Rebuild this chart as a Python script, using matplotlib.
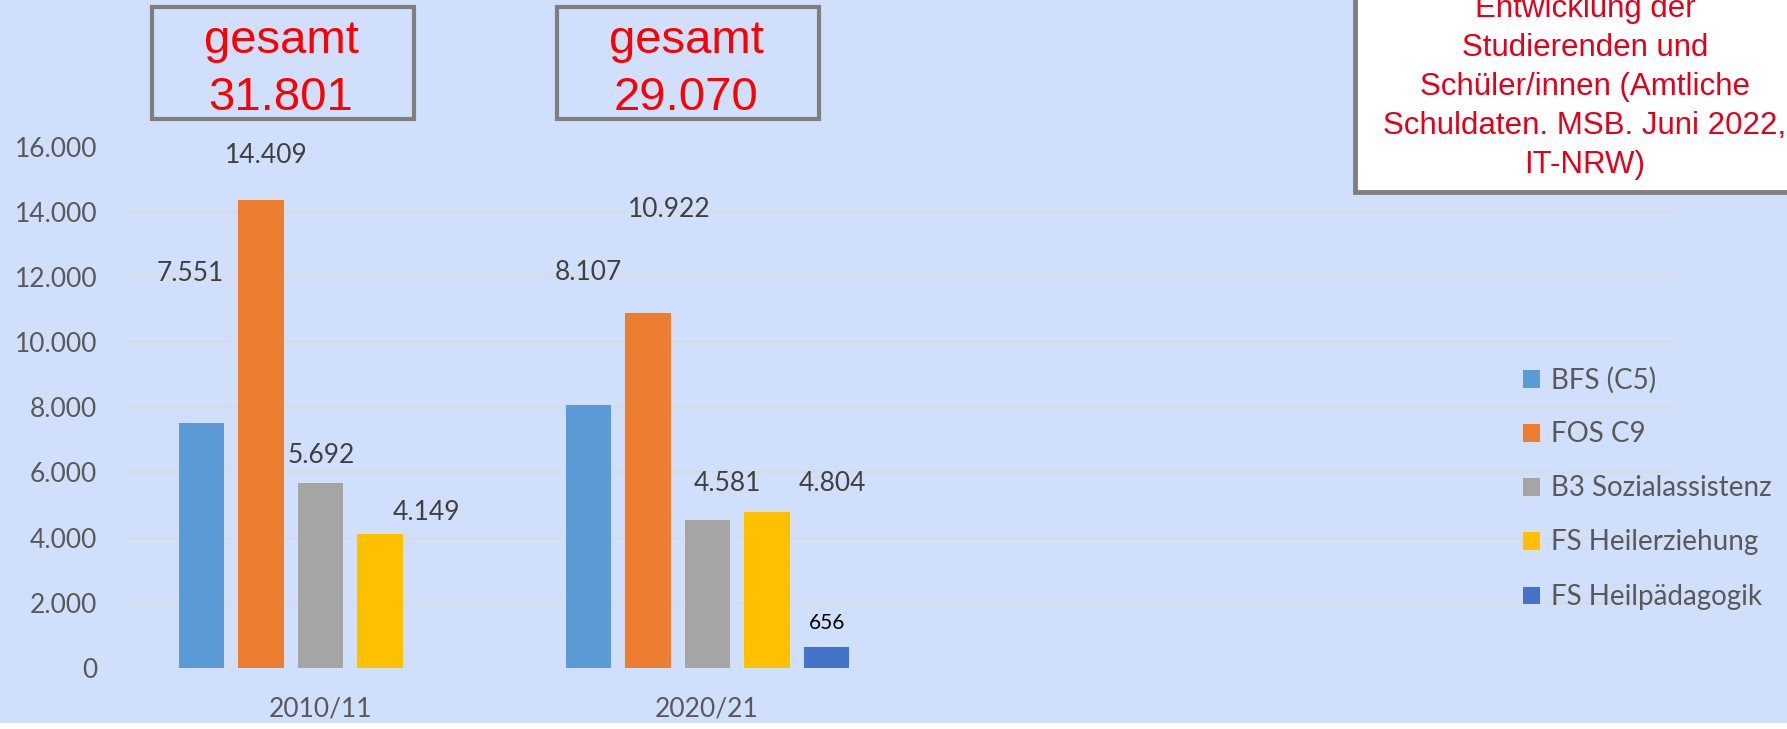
import numpy as np
import matplotlib
matplotlib.use("Agg")
from matplotlib import pyplot as plt
from matplotlib.patches import Rectangle

# data
categories = ["2010/11", "2020/21"]
series_names = ["BFS (C5)", "FOS C9", "B3 Sozialassistenz", "FS Heilerziehung", "FS Heilpädagogik"]
bfs = [7551, 8107]
fos = [14409, 10922]
b3 = [5692, 4581]
fs_heilerz = [4149, 4804]
fs_heilpaed = [np.nan, 656]
totals = ["31.801", "29.070"]
info_lines = ["Entwicklung der", "Studierenden und", "Schüler/innen (Amtliche",
              "Schuldaten. MSB. Juni 2022,", "IT-NRW)"]

colors = ["#5B9BD5", "#ED7D31", "#A5A5A5", "#FFC000", "#4472C4"]
bg = "#D0E0FC"

# manually placed data labels (x offset from category, y in data units)
label_pos = [
    [(-0.336, 12121), (-0.307, 12152)],
    [(-0.138, 15745), (-0.097, 14086)],
    [(0.002, 6532), (0.053, 5672)],
    [(0.276, 4782), (0.324, 5672)],
    [(None, None), (0.309, 1373)],
]

W, H = 1787, 729
plt.rcParams["font.family"] = ["Lato", "DejaVu Sans"]
fig = plt.figure(figsize=(W / 100, H / 100), dpi=100, facecolor=bg)

def px(x, y):
    return x / W, 1 - y / H

ax = fig.add_axes([126.5 / W, (H - 667.7) / H, (1674.5 - 126.5) / W, (667.7 - 147) / H])
ax.set_facecolor("none")

x = np.arange(len(categories))
step, width = 0.1537, 0.119
data = [bfs, fos, b3, fs_heilerz, fs_heilpaed]
for i, (name, vals, c) in enumerate(zip(series_names, data, colors)):
    ax.bar(x + (i - 2) * step, vals, width, color=c, label=name, zorder=3,
           edgecolor="#DCE6F5", lw=0.6)
    for j, v in enumerate(vals):
        if np.isnan(v):
            continue
        dx, dy = label_pos[i][j]
        txt = f"{int(v):,}".replace(",", ".")
        small = i == 4
        ax.text(x[j] + dx, dy, txt, ha="center", va="center",
                fontsize=15 if small else 19,
                color="black" if small else "#404040", zorder=4)

ax.set_xlim(-0.5, 3.5)
ax.set_ylim(0, 16000)
yt = np.arange(0, 16001, 2000)
ax.set_yticks(yt)
ax.set_yticklabels([f"{v:,}".replace(",", ".") for v in yt])
ax.set_xticks(x)
ax.set_xticklabels(categories)
ax.tick_params(axis="y", length=0, pad=21, labelsize=19, labelcolor="#595959")
ax.tick_params(axis="x", length=0, pad=21, labelsize=19, labelcolor="#595959")
ax.grid(axis="y", color="#D9D9D9", lw=1.2)
ax.set_axisbelow(True)
for s in ax.spines.values():
    s.set_visible(False)

ax.legend(loc="center left", bbox_to_anchor=px(1522, 488), bbox_transform=fig.transFigure,
          frameon=False, fontsize=20, handlelength=0.65, handleheight=0.65,
          handletextpad=0.38, labelspacing=1.01, borderpad=0, borderaxespad=0,
          labelcolor="#595959")

# "gesamt" boxes
for x0, tot in zip([152, 557], totals):
    x1, y0, y1 = x0 + 262, 7, 119
    fig.add_artist(Rectangle(px(x0, y1), (x1 - x0) / W, (y1 - y0) / H,
                             transform=fig.transFigure, fill=False,
                             ec="#7F7F7F", lw=3, zorder=5))
    cx = (x0 + x1) / 2 - 2
    fig.text(*px(cx, 53), "gesamt", ha="center", va="baseline", fontsize=34,
             color="#FF0000", family="Liberation Sans")
    fig.text(*px(cx, 110), tot, ha="center", va="baseline", fontsize=34,
             color="#FF0000", family="Liberation Sans")

# source box, top right
fig.add_artist(Rectangle(px(1355, 192), (1800 - 1355) / W, (192 + 10) / H,
                         transform=fig.transFigure, fc="white", ec="#7F7F7F",
                         lw=3.5, zorder=5))
for k, line in enumerate(info_lines):
    fig.text(*px(1585, 9 + 39 * k), line, ha="center", va="center", fontsize=22.5,
             color="#E3001B", family="Liberation Sans", zorder=6)

# white strip at bottom
fig.add_artist(Rectangle((0, 0), 1, 6 / H, transform=fig.transFigure,
                         fc="white", ec="none", zorder=1))

fig.savefig("out.png", dpi=100, facecolor=bg)
